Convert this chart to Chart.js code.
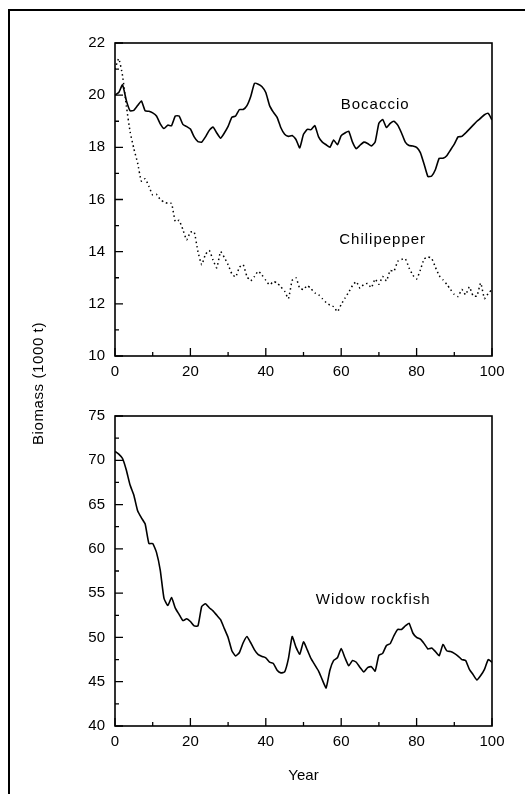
<!DOCTYPE html>
<html>
<head>
<meta charset="utf-8">
<script src="https://cdn.jsdelivr.net/npm/chart.js@4.4.1/dist/chart.umd.min.js"></script>
<style>
  html, body { margin: 0; padding: 0; background: #fff; }
  body { width: 525px; height: 794px; position: relative; overflow: hidden;
         font-family: "Liberation Sans", Arial, sans-serif; }
  #frame { position: absolute; left: 8px; top: 9px; width: 540px; height: 800px;
           border-left: 2px solid #000; border-top: 2px solid #000; }
  #top-wrap { position: absolute; left: 0; top: 0; width: 525px; height: 390px; }
  #bottom-wrap { position: absolute; left: 0; top: 390px; width: 525px; height: 404px; }
  #ytitle { position: absolute; left: -22px; top: 376px; width: 120px; height: 18px;
            line-height: 18px; text-align: center; white-space: nowrap;
            transform: rotate(-90deg); font-weight: normal;
            font-size: 15px; letter-spacing: 0.6px; color: #000; }
</style>
</head>
<body>
<div id="frame"></div>
<div id="top-wrap"><canvas id="chart-top"></canvas></div>
<div id="bottom-wrap"><canvas id="chart-bottom"></canvas></div>
<div id="ytitle">Biomass (1000 t)</div>

<script>
// years 0..100
const years = [
  0, 1, 2, 3, 4, 5, 6, 7, 8, 9, 10, 11, 12, 13, 14, 15, 16, 17, 18, 19,
  20, 21, 22, 23, 24, 25, 26, 27, 28, 29, 30, 31, 32, 33, 34, 35, 36, 37, 38, 39,
  40, 41, 42, 43, 44, 45, 46, 47, 48, 49, 50, 51, 52, 53, 54, 55, 56, 57, 58, 59,
  60, 61, 62, 63, 64, 65, 66, 67, 68, 69, 70, 71, 72, 73, 74, 75, 76, 77, 78, 79,
  80, 81, 82, 83, 84, 85, 86, 87, 88, 89, 90, 91, 92, 93, 94, 95, 96, 97, 98, 99,
  100
];

// biomass, 1000 t
const bocaccio = [
  20.0, 20.1, 20.4, 19.8, 19.4, 19.42, 19.6, 19.78, 19.4, 19.38,
  19.32, 19.2, 18.9, 18.72, 18.85, 18.83, 19.2, 19.2, 18.88, 18.8,
  18.7, 18.4, 18.22, 18.2, 18.4, 18.65, 18.78, 18.55, 18.35, 18.55,
  18.8, 19.15, 19.2, 19.45, 19.45, 19.6, 19.95, 20.45, 20.42, 20.32,
  20.1, 19.6, 19.35, 19.15, 18.75, 18.5, 18.42, 18.45, 18.3, 17.98,
  18.5, 18.69, 18.68, 18.83, 18.4, 18.2, 18.1, 18.0, 18.28, 18.1,
  18.45, 18.55, 18.62, 18.2, 17.95, 18.08, 18.2, 18.15, 18.05, 18.2,
  18.92, 19.07, 18.76, 18.92, 19.0, 18.85, 18.55, 18.2, 18.07, 18.05,
  18.0, 17.8, 17.35, 16.88, 16.9, 17.15, 17.58, 17.58, 17.68, 17.9,
  18.12, 18.4, 18.42, 18.55, 18.7, 18.85, 19.0, 19.12, 19.25, 19.3,
  19.05
];

const chilipepper = [
  21.0, 21.4, 20.75, 19.6, 18.6, 17.95, 17.4, 16.7, 16.8, 16.5,
  16.17, 16.2, 16.0, 15.9, 15.85, 15.85, 15.15, 15.2, 14.85, 14.45,
  14.75, 14.76, 14.0, 13.5, 13.9, 14.05, 13.68, 13.38, 14.0, 13.78,
  13.5, 13.15, 13.03, 13.4, 13.5, 13.05, 12.88, 13.05, 13.25, 13.1,
  12.9, 12.73, 12.85, 12.8, 12.65, 12.48, 12.2, 12.9, 13.0, 12.6,
  12.55, 12.7, 12.58, 12.42, 12.35, 12.2, 12.05, 11.95, 11.89, 11.7,
  11.98, 12.22, 12.45, 12.7, 12.85, 12.6, 12.75, 12.78, 12.62, 12.95,
  12.75, 13.05, 12.88, 13.28, 13.25, 13.63, 13.7, 13.73, 13.38, 13.1,
  12.95, 13.3, 13.72, 13.8, 13.74, 13.4, 13.08, 12.92, 12.75, 12.55,
  12.36, 12.28, 12.55, 12.35, 12.65, 12.3, 12.3, 12.8, 12.2, 12.4,
  12.55
];

const widow = [
  71.0, 70.7, 70.2, 68.9, 67.2, 66.05, 64.3, 63.5, 62.8, 60.6,
  60.6, 59.6, 57.6, 54.4, 53.6, 54.5, 53.3, 52.6, 51.9, 52.1,
  51.8, 51.3, 51.3, 53.5, 53.8, 53.35, 53.0, 52.5, 52.0, 51.0,
  50.0, 48.5, 47.9, 48.3, 49.4, 50.1, 49.4, 48.6, 48.05, 47.85,
  47.7, 47.2, 47.05, 46.3, 46.0, 46.1, 47.6, 50.1, 48.9, 48.1,
  49.5, 48.6, 47.6, 46.9, 46.2, 45.2, 44.3, 46.3, 47.4, 47.7,
  48.75, 47.7, 46.8, 47.4, 47.2, 46.6, 46.1, 46.6, 46.7, 46.2,
  48.0, 48.2, 49.1, 49.3, 50.2, 50.9, 50.9, 51.3, 51.6, 50.5,
  50.0, 49.8, 49.3, 48.7, 48.8, 48.4, 47.95, 49.2, 48.5, 48.4,
  48.2, 47.9, 47.5, 47.4, 46.4, 45.8, 45.2, 45.7, 46.4, 47.5,
  47.2
];

const xTicks = [0, 20, 40, 60, 80, 100];
const topYTicks = [10, 12, 14, 16, 18, 20, 22];
const bottomYTicks = [40, 45, 50, 55, 60, 65, 70, 75];

const FONT = '"Liberation Sans", Arial, sans-serif';

const pts = (vals) => years.map((yr, i) => ({ x: yr, y: vals[i] }));

// box around the plot, inward ticks, and the series labels
const frameTicks = {
  id: "frameTicks",
  afterDatasetsDraw(chart, args, opts) {
    const { ctx, chartArea: a, scales: { x, y } } = chart;
    ctx.save();
    ctx.strokeStyle = "#000";
    ctx.lineWidth = 1.6;
    ctx.strokeRect(a.left, a.top, a.right - a.left, a.bottom - a.top);

    ctx.lineWidth = 1.3;
    ctx.beginPath();
    for (let v = x.min; v <= x.max; v += 10) {
      const px = x.getPixelForValue(v);
      const len = v % 20 === 0 ? 8 : 4;
      ctx.moveTo(px, a.bottom);
      ctx.lineTo(px, a.bottom - len);
    }
    for (let v = y.min; v <= y.max + 1e-6; v += opts.minor) {
      const py = y.getPixelForValue(v);
      const major = Math.abs(((v - y.min) / opts.major) - Math.round((v - y.min) / opts.major)) < 1e-6;
      ctx.moveTo(a.left, py);
      ctx.lineTo(a.left + (major ? 8 : 4), py);
    }
    ctx.stroke();

    ctx.fillStyle = "#000";
    ctx.font = "15px " + FONT;
    ctx.letterSpacing = "1px";
    ctx.textAlign = "center";
    ctx.textBaseline = "middle";
    opts.labels.forEach((l) => {
      ctx.fillText(l.text, x.getPixelForValue(l.x), y.getPixelForValue(l.y));
    });
    ctx.restore();
  },
};

const tickFont = { family: FONT, size: 15 };

const xScale = (height, withTitle) => ({
  type: "linear",
  min: 0,
  max: 100,
  grid: { display: false, drawTicks: false },
  border: { display: false },
  afterBuildTicks: (s) => { s.ticks = xTicks.map((v) => ({ value: v })); },
  ticks: { color: "#000", font: tickFont, padding: 7, maxRotation: 0 },
  title: {
    display: withTitle,
    text: "Year",
    color: "#000",
    font: { family: FONT, size: 15 },
    padding: { top: 0, bottom: 1 },
  },
  afterFit: (s) => { s.height = height; },
});

const yScale = (min, max, tickVals) => ({
  min: min,
  max: max,
  grid: { display: false, drawTicks: false },
  border: { display: false },
  afterBuildTicks: (s) => { s.ticks = tickVals.map((v) => ({ value: v })); },
  ticks: { color: "#000", font: tickFont, padding: 10 },
  afterFit: (s) => { s.width = 115; },
});

const lineStyle = { borderColor: "#000", borderWidth: 1.6, pointRadius: 0, tension: 0.15, fill: false };

new Chart(document.getElementById("chart-top"), {
  type: "line",
  data: {
    datasets: [
      { label: "Bocaccio", data: pts(bocaccio), ...lineStyle },
      { label: "Chilipepper", data: pts(chilipepper), ...lineStyle, borderWidth: 1.5, borderDash: [1.5, 3] },
    ],
  },
  options: {
    responsive: true,
    maintainAspectRatio: false,
    animation: false,
    layout: { padding: { top: 43, right: 33, bottom: 4, left: 0 } },
    plugins: {
      legend: { display: false },
      tooltip: { enabled: false },
      frameTicks: {
        major: 2,
        minor: 1,
        labels: [
          { text: "Bocaccio", x: 69, y: 19.62 },
          { text: "Chilipepper", x: 71, y: 14.45 },
        ],
      },
    },
    scales: { x: xScale(30, false), y: yScale(10, 22, topYTicks) },
  },
  plugins: [frameTicks],
});

new Chart(document.getElementById("chart-bottom"), {
  type: "line",
  data: {
    datasets: [
      { label: "Widow rockfish", data: pts(widow), ...lineStyle },
    ],
  },
  options: {
    responsive: true,
    maintainAspectRatio: false,
    animation: false,
    layout: { padding: { top: 26, right: 33, bottom: 8, left: 0 } },
    plugins: {
      legend: { display: false },
      tooltip: { enabled: false },
      frameTicks: {
        major: 5,
        minor: 2.5,
        labels: [{ text: "Widow rockfish", x: 68.5, y: 54.2 }],
      },
    },
    scales: { x: xScale(60, true), y: yScale(40, 75, bottomYTicks) },
  },
  plugins: [frameTicks],
});
</script>
</body>
</html>
